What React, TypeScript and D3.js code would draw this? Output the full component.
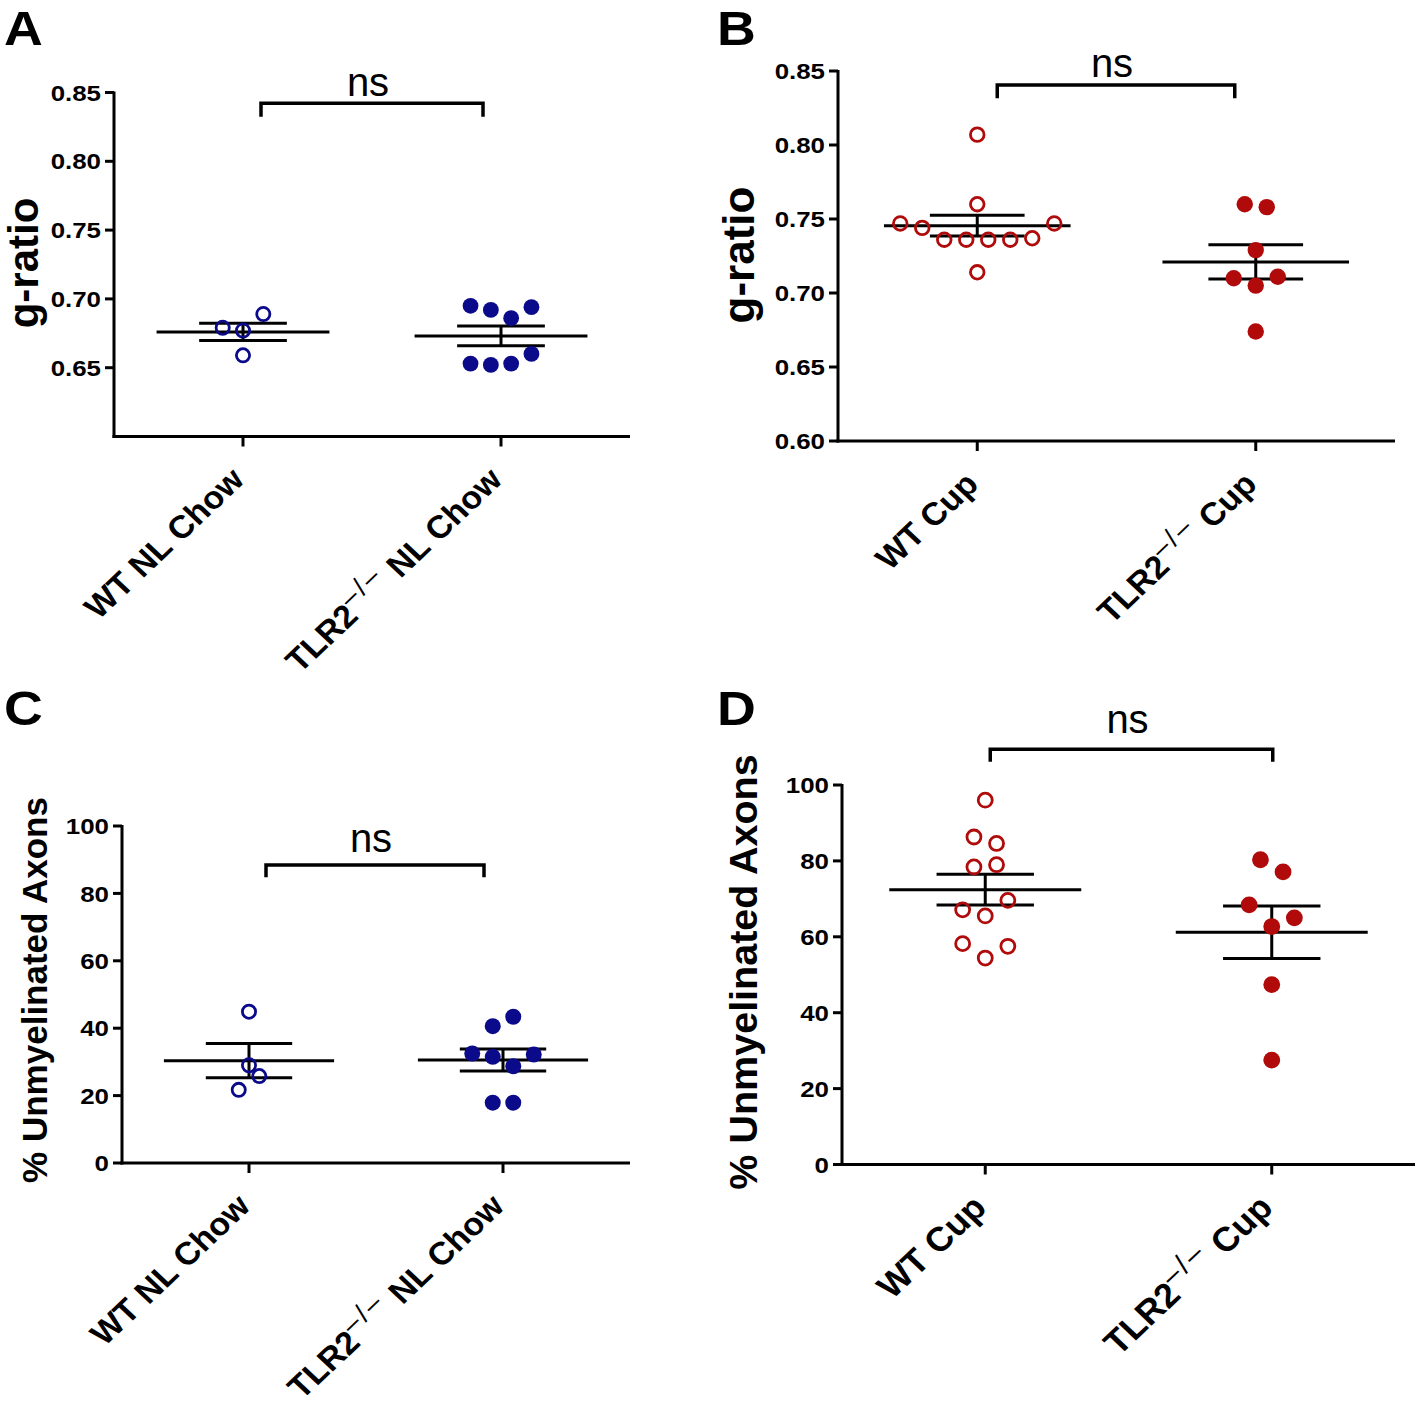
import React from 'react';
import * as d3 from 'd3';

// ---------- data ----------
const chowCats = ['WT NL Chow', 'TLR2-/- NL Chow'];
const cupCats = ['WT Cup', 'TLR2-/- Cup'];

const gRatioTicksChow = [0.65, 0.7, 0.75, 0.8, 0.85];
const gRatioTicksCup = [0.6, 0.65, 0.7, 0.75, 0.8, 0.85];
const pctTicks = [0, 20, 40, 60, 80, 100];

// g-ratio, normal chow
const gRatioWTChow = [0.679, 0.677, 0.689, 0.659];
const gRatioTLR2Chow = [0.695, 0.692, 0.686, 0.694, 0.653, 0.652, 0.653, 0.66];
// g-ratio, cuprizone
const gRatioWTCup = [0.807, 0.76, 0.747, 0.744, 0.736, 0.736, 0.736, 0.736, 0.737, 0.747, 0.714];
const gRatioTLR2Cup = [0.76, 0.758, 0.729, 0.71, 0.705, 0.711, 0.674];
// % unmyelinated axons, normal chow
const pctWTChow = [44.9, 29.0, 21.7, 25.8];
const pctTLR2Chow = [40.6, 43.4, 32.5, 31.5, 28.7, 32.2, 17.9, 17.9];
// % unmyelinated axons, cuprizone
const pctWTCup = [96.0, 86.3, 84.6, 78.4, 79.0, 67.1, 65.5, 69.6, 58.2, 54.4, 57.5];
const pctTLR2Cup = [80.3, 77.1, 68.4, 62.7, 65.0, 47.4, 27.5];

const sigLabel = 'ns';
const gRatioTitle = 'g-ratio';
const pctTitle = '% Unmyelinated Axons';

// ---------- styling / layout ----------
const FONT = "'Liberation Sans', Arial, Helvetica, sans-serif";
const BLUE = '#0a0a8a';
const RED = '#b00a0a';
const ROW_T = 22.5;

type PanelCfg = {
  letter: string;
  lx: number;
  ly: number;
  x0: number;
  x1: number;
  yTop: number;
  yBot: number;
  domain: [number, number];
  ticks: number[];
  fmt: (v: number) => string;
  cats: string[];
  groups: number[][];
  color: string;
  title: string;
  titleX: number;
  titleY: number;
  titleSize: number;
  spacing: number;
  rOpen: number;
  rFill: number;
  br: { y1: number; y2: number; dl: number; dr: number; textY: number };
  labelSize: number;
};

const f2 = d3.format('.2f');
const f0 = d3.format('d');

const panels: PanelCfg[] = [
  {
    letter: 'A', lx: 4, ly: 45,
    x0: 114, x1: 630, yTop: 92.5, yBot: 436.5, domain: [0.6, 0.85],
    ticks: gRatioTicksChow, fmt: f2, cats: chowCats,
    groups: [gRatioWTChow, gRatioTLR2Chow], color: BLUE,
    title: gRatioTitle, titleX: 38, titleY: 263, titleSize: 42,
    spacing: 20.3, rOpen: 6.6, rFill: 7.9,
    br: { y1: 103.3, y2: 116.7, dl: 18, dr: -18, textY: 96 },
    labelSize: 32,
  },
  {
    letter: 'B', lx: 717, ly: 45,
    x0: 838, x1: 1395, yTop: 71, yBot: 441, domain: [0.6, 0.85],
    ticks: gRatioTicksCup, fmt: f2, cats: cupCats,
    groups: [gRatioWTCup, gRatioTLR2Cup], color: RED,
    title: gRatioTitle, titleX: 754, titleY: 255, titleSize: 44,
    spacing: 22, rOpen: 6.8, rFill: 8.2,
    br: { y1: 85, y2: 98.3, dl: 20, dr: -21, textY: 77 },
    labelSize: 32,
  },
  {
    letter: 'C', lx: 4, ly: 725,
    x0: 122, x1: 630, yTop: 826, yBot: 1163, domain: [0, 100],
    ticks: pctTicks, fmt: f0, cats: chowCats,
    groups: [pctWTChow, pctTLR2Chow], color: BLUE,
    title: pctTitle, titleX: 47, titleY: 990, titleSize: 35,
    spacing: 20.5, rOpen: 6.6, rFill: 8,
    br: { y1: 865, y2: 877.3, dl: 17, dr: -19, textY: 852 },
    labelSize: 32,
  },
  {
    letter: 'D', lx: 717, ly: 725,
    x0: 842, x1: 1415, yTop: 785, yBot: 1164.5, domain: [0, 100],
    ticks: pctTicks, fmt: f0, cats: cupCats,
    groups: [pctWTCup, pctTLR2Cup], color: RED,
    title: pctTitle, titleX: 757, titleY: 972, titleSize: 39.5,
    spacing: 22.6, rOpen: 7, rFill: 8.4,
    br: { y1: 749.3, y2: 761.7, dl: 5, dr: 1, textY: 733 },
    labelSize: 34,
  },
];

// GraphPad-like row layout: points within ROW_T px of a row's lowest point share a row,
// and are spread horizontally (in array order) around the column centre.
function rowOffsets(vals: number[], y: (v: number) => number): number[] {
  const idx = vals.map((_, i) => i).sort((a, b) => vals[a] - vals[b]);
  const rows: number[][] = [];
  let anchor = 0;
  for (const i of idx) {
    const py = y(vals[i]);
    if (rows.length && Math.abs(py - anchor) < ROW_T) rows[rows.length - 1].push(i);
    else {
      rows.push([i]);
      anchor = py;
    }
  }
  const offs = new Array(vals.length).fill(0);
  for (const r of rows) {
    r.sort((a, b) => a - b);
    r.forEach((i, k) => (offs[i] = k - (r.length - 1) / 2));
  }
  return offs;
}

function CatLabel({ text, x, y, size }: { text: string; x: number; y: number; size: number }) {
  const m = text.match(/^(.*?)(-\/-)(.*)$/);
  const shift = size * 0.4;
  return (
    <text
      transform={`translate(${x},${y}) scale(1.06,1) rotate(-45)`}
      textAnchor="end"
      fontFamily={FONT}
      fontWeight="bold"
      fontSize={size}
      fill="#000"
    >
      {m ? (
        <>
          <tspan>{m[1]}</tspan>
          <tspan fontSize={size * 0.82} fontWeight="normal" letterSpacing={3} dy={-shift}>{'\u2013/\u2013'}</tspan>
          <tspan dy={shift}>{m[3]}</tspan>
        </>
      ) : (
        text
      )}
    </text>
  );
}

function Panel({ p }: { p: PanelCfg }) {
  const y = d3.scaleLinear().domain(p.domain).range([p.yBot, p.yTop]);
  const x = d3.scalePoint<string>().domain(p.cats).range([p.x0, p.x1]).padding(0.5);
  const step = x.step();
  const meanHalf = step * 0.335;
  const capHalf = step * 0.17;
  const sw = 3;

  return (
    <g>
      <text fontFamily={FONT} fontWeight="bold" fontSize={48}
        transform={`translate(${p.lx},${p.ly}) scale(1.12,1)`}>
        {p.letter}
      </text>

      {/* y title */}
      <text
        transform={`translate(${p.titleX},${p.titleY}) rotate(-90)`}
        textAnchor="middle"
        fontFamily={FONT}
        fontWeight="bold"
        fontSize={p.titleSize}
        fill="#000"
      >
        {p.title}
      </text>

      {/* axes */}
      <line x1={p.x0} x2={p.x0} y1={p.yTop - 1} y2={p.yBot + sw / 2} stroke="#000" strokeWidth={sw} />
      <line x1={p.x0 - sw / 2} x2={p.x1} y1={p.yBot} y2={p.yBot} stroke="#000" strokeWidth={sw} />
      {p.ticks.map((t) => (
        <g key={t}>
          <line x1={p.x0 - 9} x2={p.x0} y1={y(t)} y2={y(t)} stroke="#000" strokeWidth={sw} />
          <text
            transform={`translate(${p.x0 - 13},${y(t)}) scale(1.15,1)`}
            textAnchor="end"
            dy="0.36em"
            fontFamily={FONT}
            fontWeight="bold"
            fontSize={22.5}
          >
            {p.fmt(t)}
          </text>
        </g>
      ))}
      {p.cats.map((c) => (
        <g key={c}>
          <line x1={x(c)} x2={x(c)} y1={p.yBot} y2={p.yBot + 10} stroke="#000" strokeWidth={sw} />
          <CatLabel text={c} x={(x(c) as number) + 3} y={p.yBot + 45} size={p.labelSize} />
        </g>
      ))}

      {/* groups */}
      {p.groups.map((vals, gi) => {
        const cx = x(p.cats[gi]) as number;
        const mean = d3.mean(vals) as number;
        const sem = (d3.deviation(vals) as number) / Math.sqrt(vals.length);
        const offs = rowOffsets(vals, y);
        const filled = gi === 1;
        return (
          <g key={gi}>
            <line x1={cx - meanHalf} x2={cx + meanHalf} y1={y(mean)} y2={y(mean)} stroke="#000" strokeWidth={sw} />
            <line x1={cx - capHalf} x2={cx + capHalf} y1={y(mean + sem)} y2={y(mean + sem)} stroke="#000" strokeWidth={sw} />
            <line x1={cx - capHalf} x2={cx + capHalf} y1={y(mean - sem)} y2={y(mean - sem)} stroke="#000" strokeWidth={sw} />
            <line x1={cx} x2={cx} y1={y(mean + sem)} y2={y(mean - sem)} stroke="#000" strokeWidth={sw} />
            {vals.map((v, i) =>
              filled ? (
                <circle key={i} cx={cx + offs[i] * p.spacing} cy={y(v)} r={p.rFill} fill={p.color} />
              ) : (
                <circle key={i} cx={cx + offs[i] * p.spacing} cy={y(v)} r={p.rOpen} fill="none"
                  stroke={p.color} strokeWidth={2.8} />
              )
            )}
          </g>
        );
      })}

      {/* significance bracket */}
      {(() => {
        const xl = (x(p.cats[0]) as number) + p.br.dl;
        const xr = (x(p.cats[1]) as number) + p.br.dr;
        return (
          <g>
            <path d={`M${xl},${p.br.y2}V${p.br.y1}H${xr}V${p.br.y2}`} fill="none" stroke="#000" strokeWidth={3.5} />
            <text x={(xl + xr) / 2 - 4} y={p.br.textY} textAnchor="middle" fontFamily={FONT} fontSize={40}>
              {sigLabel}
            </text>
          </g>
        );
      })()}
    </g>
  );
}

export default function App() {
  return (
    <svg
      width={1418}
      height={1412}
      viewBox="0 0 1418 1412"
      style={{ position: 'absolute', left: 0, top: 0, background: '#fff', display: 'block' }}
    >
      <rect width={1418} height={1412} fill="#fff" />
      {panels.map((p) => (
        <Panel key={p.letter} p={p} />
      ))}
    </svg>
  );
}
